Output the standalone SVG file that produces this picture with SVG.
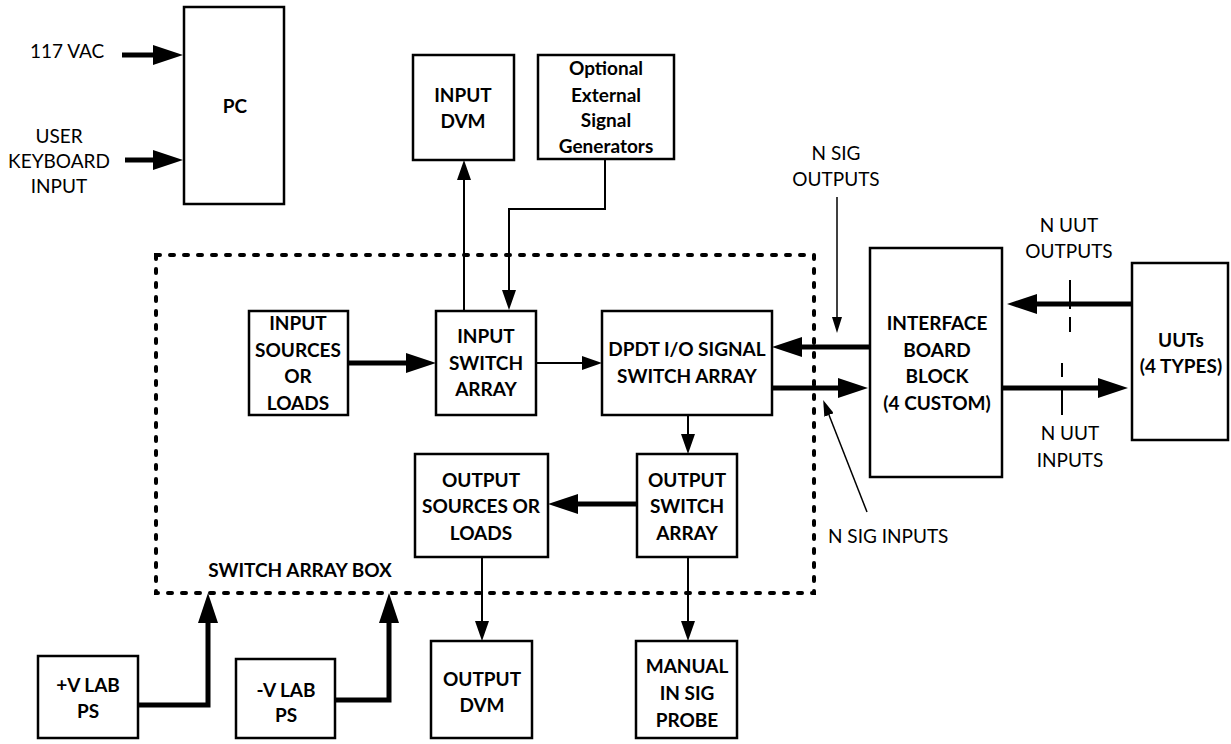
<svg xmlns="http://www.w3.org/2000/svg" width="1231" height="744" viewBox="0 0 1231 744">
  <style>
    .box { fill: #ffffff; stroke: #000000; stroke-width: 2.5; }
    .lbl { font-family: Lato, "Liberation Sans", sans-serif; font-size: 19px; font-weight: bold; fill: #000000; text-anchor: middle; }
    .note { font-family: Lato, "Liberation Sans", sans-serif; font-size: 19px; fill: #000000; text-anchor: middle; }
    .thick { fill: none; stroke: #000000; stroke-width: 5; marker-end: url(#headBig); }
    .thin { fill: none; stroke: #000000; stroke-width: 2; marker-end: url(#headMid); }
    .slim { fill: none; stroke: #000000; stroke-width: 1.5; marker-end: url(#headSmall); }
    .tick { fill: none; stroke: #000000; stroke-width: 2; }
    .enclosure { fill: none; stroke: #000000; stroke-width: 4; stroke-dasharray: 4 10; stroke-linecap: round; }
  </style>
  <defs>
    <marker id="headBig" viewBox="0 -10 30 20" markerWidth="30" markerHeight="20" refX="0" refY="0" markerUnits="userSpaceOnUse" orient="auto">
      <path d="M0,-10 L30,0 L0,10 Z" fill="#000000"/>
    </marker>
    <marker id="headMid" viewBox="0 -7 20 14" markerWidth="20" markerHeight="14" refX="0" refY="0" markerUnits="userSpaceOnUse" orient="auto">
      <path d="M0,-7 L20,0 L0,7 Z" fill="#000000"/>
    </marker>
    <marker id="headSmall" viewBox="0 -5 16 10" markerWidth="16" markerHeight="10" refX="0" refY="0" markerUnits="userSpaceOnUse" orient="auto">
      <path d="M0,-5 L16,0 L0,5 Z" fill="#000000"/>
    </marker>
  </defs>

  <!-- switch array enclosure -->
  <g id="switch-array-box">
    <rect class="enclosure" x="156" y="255" width="658" height="338"/>
    <text class="lbl" x="300" y="577">SWITCH ARRAY BOX</text>
  </g>

  <!-- free-standing labels -->
  <g id="labels">
    <text class="note" x="30" y="58" text-anchor="start" style="text-anchor:start">117 VAC</text>
    <text class="note" x="59" y="143">USER</text>
    <text class="note" x="59" y="168">KEYBOARD</text>
    <text class="note" x="59" y="193">INPUT</text>
    <text class="note" x="836" y="160">N SIG</text>
    <text class="note" x="836" y="186">OUTPUTS</text>
    <text class="note" x="1069" y="232">N UUT</text>
    <text class="note" x="1069" y="258">OUTPUTS</text>
    <text class="note" x="1070" y="440">N UUT</text>
    <text class="note" x="1070" y="467">INPUTS</text>
    <text class="note" x="828" y="543" style="text-anchor:start">N SIG INPUTS</text>
  </g>

  <g id="pc">
    <rect class="box" x="184" y="7" width="100" height="197"/>
    <text class="lbl" x="235" y="113">PC</text>
  </g>

  <g id="input-dvm">
    <rect class="box" x="413" y="55" width="101" height="105"/>
    <text class="lbl" x="463" y="102">INPUT</text>
    <text class="lbl" x="463" y="128">DVM</text>
  </g>

  <g id="signal-generators">
    <rect class="box" x="538" y="55" width="136" height="104"/>
    <text class="lbl" x="606" y="75">Optional</text>
    <text class="lbl" x="606" y="102">External</text>
    <text class="lbl" x="606" y="127">Signal</text>
    <text class="lbl" x="606" y="153">Generators</text>
  </g>

  <g id="input-sources">
    <rect class="box" x="249" y="311" width="99" height="104"/>
    <text class="lbl" x="298" y="330">INPUT</text>
    <text class="lbl" x="298" y="357">SOURCES</text>
    <text class="lbl" x="298" y="383">OR</text>
    <text class="lbl" x="298" y="410">LOADS</text>
  </g>

  <g id="input-switch-array">
    <rect class="box" x="436" y="311" width="100" height="104"/>
    <text class="lbl" x="486" y="343">INPUT</text>
    <text class="lbl" x="486" y="370">SWITCH</text>
    <text class="lbl" x="486" y="396">ARRAY</text>
  </g>

  <g id="dpdt-switch-array">
    <rect class="box" x="602" y="311" width="170" height="104"/>
    <text class="lbl" x="687" y="356">DPDT I/O SIGNAL</text>
    <text class="lbl" x="687" y="383">SWITCH ARRAY</text>
  </g>

  <g id="output-sources">
    <rect class="box" x="415" y="454" width="133" height="103"/>
    <text class="lbl" x="481" y="487">OUTPUT</text>
    <text class="lbl" x="481" y="513">SOURCES OR</text>
    <text class="lbl" x="481" y="540">LOADS</text>
  </g>

  <g id="output-switch-array">
    <rect class="box" x="637" y="454" width="100" height="103"/>
    <text class="lbl" x="687" y="487">OUTPUT</text>
    <text class="lbl" x="687" y="513">SWITCH</text>
    <text class="lbl" x="687" y="540">ARRAY</text>
  </g>

  <g id="interface-board">
    <rect class="box" x="870" y="248" width="132" height="229"/>
    <text class="lbl" x="937" y="330">INTERFACE</text>
    <text class="lbl" x="937" y="357">BOARD</text>
    <text class="lbl" x="937" y="383">BLOCK</text>
    <text class="lbl" x="937" y="410">(4 CUSTOM)</text>
  </g>

  <g id="uuts">
    <rect class="box" x="1132" y="263" width="96" height="177"/>
    <text class="lbl" x="1181" y="347">UUTs</text>
    <text class="lbl" x="1181" y="373">(4 TYPES)</text>
  </g>

  <g id="pos-lab-ps">
    <rect class="box" x="38" y="656" width="100" height="82"/>
    <text class="lbl" x="88" y="692">+V LAB</text>
    <text class="lbl" x="88" y="718">PS</text>
  </g>

  <g id="neg-lab-ps">
    <rect class="box" x="236" y="659" width="99" height="79"/>
    <text class="lbl" x="286" y="697">-V LAB</text>
    <text class="lbl" x="286" y="722">PS</text>
  </g>

  <g id="output-dvm">
    <rect class="box" x="431" y="641" width="101" height="97"/>
    <text class="lbl" x="482" y="686">OUTPUT</text>
    <text class="lbl" x="482" y="712">DVM</text>
  </g>

  <g id="manual-probe">
    <rect class="box" x="636" y="641" width="101" height="97"/>
    <text class="lbl" x="687" y="673">MANUAL</text>
    <text class="lbl" x="687" y="700">IN SIG</text>
    <text class="lbl" x="687" y="727">PROBE</text>
  </g>

  <g id="connectors">
    <path class="thick" d="M122,55 H153"/>
    <path class="thick" d="M125,160 H153"/>
    <path class="thin" d="M464,311 V180"/>
    <path class="thin" d="M605,159 V209 H509 V290"/>
    <path class="thick" d="M348,363 H406"/>
    <path class="thin" d="M536,363 H582"/>
    <path class="thick" d="M870,347 H802"/>
    <path class="thick" d="M771,388 H838"/>
    <path class="thin" d="M688,415 V434"/>
    <path class="thick" d="M637,504 H578"/>
    <path class="thin" d="M482,557 V621"/>
    <path class="thin" d="M688,557 V621"/>
    <path class="thick" d="M138,705 H208 V623"/>
    <path class="thick" d="M335,700 H389 V623"/>
    <path class="thick" d="M1132,304 H1037"/>
    <path class="thick" d="M1002,388 H1098"/>
    <path class="slim" d="M837,197 V317"/>
    <path class="slim" d="M867,512 L829,415"/>
    <path class="tick" d="M1070,280 V309 M1070,317 V332"/>
    <path class="tick" d="M1062,363 V377 M1062,386 V415"/>
  </g>
</svg>
